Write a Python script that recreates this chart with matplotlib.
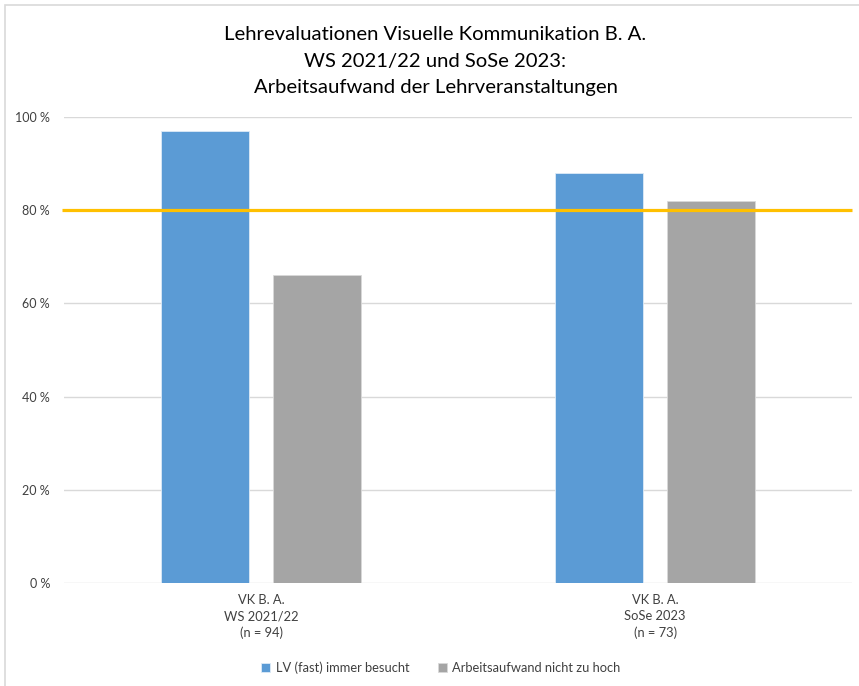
import numpy as np
import matplotlib.pyplot as plt
from matplotlib.patches import Rectangle

# === DATA ===
categories = ["VK B. A.\nWS 2021/22\n(n = 94)", "VK B. A.\nSoSe 2023\n(n = 73)"]
besucht = [97, 88]          # LV (fast) immer besucht, in %
aufwand_ok = [66, 82]       # Arbeitsaufwand nicht zu hoch, in %
zielwert = [80, 80]         # 80 %-Linie
y_ticks = [0, 20, 40, 60, 80, 100]

# === STYLE ===
plt.rcParams['font.family'] = ['Lato', 'DejaVu Sans']
BLUE = "#5B9BD5"
GRAY = "#A5A5A5"
GOLD = "#FFC000"
GRID = "#D9D9D9"
TEXT = "#404040"

fig = plt.figure(figsize=(8.59, 6.86), dpi=100)
ax = fig.add_axes([0.0745, 0.150, 0.9175, 0.6795])

x = np.arange(len(categories))
width = 0.223
offset = 0.142

ax.bar(x - offset, besucht, width, color=BLUE, edgecolor="#DEEBF7",
       linewidth=0.6, label="LV (fast) immer besucht", zorder=2)
ax.bar(x + offset, aufwand_ok, width, color=GRAY, edgecolor="#D9D9D9",
       linewidth=0.6, label="Arbeitsaufwand nicht zu hoch", zorder=2)

# target line across the full plot width
ax.plot([-0.505, 1.5], zielwert, color=GOLD, linewidth=2.3, zorder=3,
        clip_on=False, solid_capstyle="butt")

ax.set_xlim(-0.5, 1.5)
ax.set_ylim(0, 100)
ax.set_yticks(y_ticks)
ax.set_yticklabels([f"{v} %" for v in y_ticks], fontsize=9, color=TEXT)
ax.set_xticks(x)
ax.set_xticklabels(categories, fontsize=9.3, color=TEXT, linespacing=1.4)
ax.tick_params(axis="both", length=0)
ax.tick_params(axis="y", pad=10)
ax.tick_params(axis="x", pad=8)
ax.yaxis.grid(True, color=GRID, linewidth=1, zorder=0)
ax.set_axisbelow(True)
for s in ax.spines.values():
    s.set_visible(False)

fig.text(0.507, 0.962, "Lehrevaluationen Visuelle Kommunikation B. A.\n"
         "WS 2021/22 und SoSe 2023:\nArbeitsaufwand der Lehrveranstaltungen",
         ha="center", va="top", fontsize=14.6, color="#000000", linespacing=1.68)

fig.legend(loc="center", bbox_to_anchor=(0.513, 0.027), ncol=2, frameon=False,
           fontsize=9.3, handlelength=0.7, handleheight=0.7, columnspacing=2.2,
           handletextpad=0.4, labelcolor=TEXT)

# thin frame around the chart area
fig.patches.append(Rectangle((5 / 859, -0.01), 1.0, 1 - 5 / 686 + 0.01,
                             transform=fig.transFigure, fill=False,
                             edgecolor=GRID, linewidth=1.2))

fig.savefig("out.png", dpi=100)
